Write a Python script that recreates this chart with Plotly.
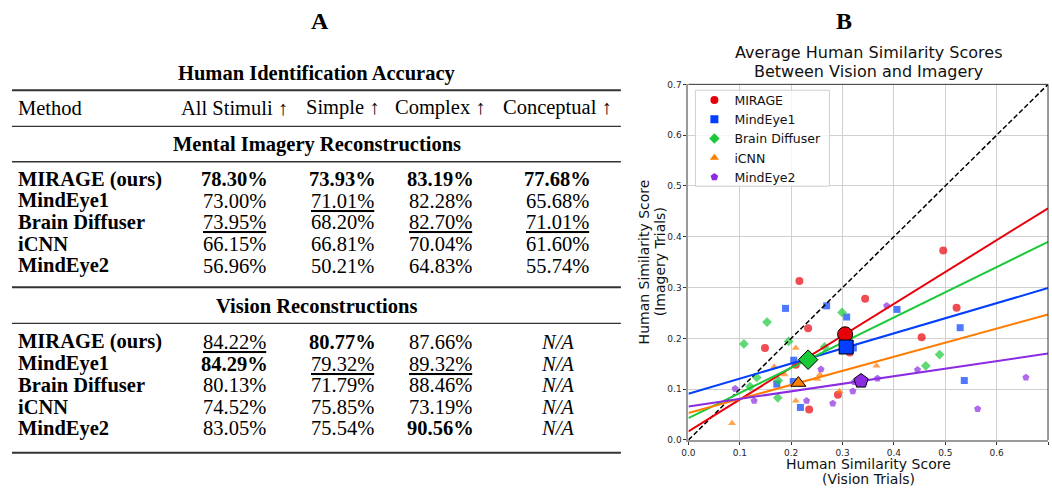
import plotly.graph_objects as go

W, H = 1052, 491


def px(x):
    return x / W


def py(y):
    return 1 - y / H


# ---------------- Table (panel A) data ----------------
table_title = "Human Identification Accuracy"
column_headers = ["Method", "All Stimuli ↑", "Simple ↑", "Complex ↑", "Conceptual ↑"]
section_titles = ["Mental Imagery Reconstructions", "Vision Reconstructions"]
methods = ["MIRAGE (ours)", "MindEye1", "Brain Diffuser", "iCNN", "MindEye2"]

imagery_all = [78.30, 73.00, 73.95, 66.15, 56.96]
imagery_simple = [73.93, 71.01, 68.20, 66.81, 50.21]
imagery_complex = [83.19, 82.28, 82.70, 70.04, 64.83]
imagery_conceptual = [77.68, 65.68, 71.01, 61.60, 55.74]

vision_all = [84.22, 84.29, 80.13, 74.52, 83.05]
vision_simple = [80.77, 79.32, 71.79, 75.85, 75.54]
vision_complex = [87.66, 89.32, 88.46, 73.19, 90.56]
vision_conceptual = [None, None, None, None, None]

# ---------------- Scatter (panel B) data ----------------
series_names = ["MIRAGE", "MindEye1", "Brain Diffuser", "iCNN", "MindEye2"]

mirage_x = [0.496, 0.344, 0.522, 0.454, 0.216, 0.233, 0.149, 0.209, 0.291, 0.235, 0.314]
mirage_y = [0.373, 0.278, 0.260, 0.202, 0.313, 0.220, 0.181, 0.148, 0.089, 0.060, 0.172]

mindeye1_x = [0.189, 0.269, 0.308, 0.406, 0.529, 0.537, 0.321, 0.205, 0.172, 0.218, 0.204]
mindeye1_y = [0.259, 0.264, 0.242, 0.257, 0.221, 0.117, 0.181, 0.157, 0.110, 0.064, 0.115]

brain_x = [0.153, 0.299, 0.108, 0.195, 0.265, 0.133, 0.120, 0.175, 0.174, 0.489, 0.462]
brain_y = [0.232, 0.251, 0.189, 0.194, 0.183, 0.123, 0.105, 0.117, 0.083, 0.168, 0.146]

icnn_x = [0.209, 0.167, 0.187, 0.256, 0.251, 0.209, 0.085, 0.294, 0.366]
icnn_y = [0.181, 0.144, 0.129, 0.129, 0.120, 0.077, 0.033, 0.096, 0.146]

mindeye2_x = [0.091, 0.128, 0.258, 0.230, 0.281, 0.320, 0.386, 0.368, 0.446, 0.563, 0.657, 0.323]
mindeye2_y = [0.101, 0.077, 0.139, 0.077, 0.072, 0.096, 0.264, 0.121, 0.138, 0.061, 0.123, 0.114]

# group means (large markers)
mean_x = [0.305, 0.307, 0.233, 0.214, 0.336]
mean_y = [0.208, 0.183, 0.158, 0.112, 0.116]

# fitted regression lines, value at x = 0 and x = 0.7
fit_x = [0.0, 0.7]
fit_y_start = [0.017, 0.091, 0.043, 0.053, 0.066]
fit_y_end = [0.456, 0.299, 0.390, 0.247, 0.170]

# identity line
diag = [0.0, 0.7]

tick_vals = [0.0, 0.1, 0.2, 0.3, 0.4, 0.5, 0.6, 0.7]

plot_title_lines = ["Average Human Similarity Scores", "Between Vision and Imagery"]
x_title_lines = ["Human Similarity Score", "(Vision Trials)"]
y_title_lines = ["Human Similarity Score", "(Imagery Trials)"]

colors = ["#e8000b", "#023eff", "#1ac938", "#ff7c00", "#8b2be2"]
symbols = ["circle", "square", "diamond", "triangle-up", "pentagon"]
small_sizes = [8, 7, 7.5, 7, 7.5]
big_sizes = [15, 14, 15, 13, 15]

points = [
    (mirage_x, mirage_y),
    (mindeye1_x, mindeye1_y),
    (brain_x, brain_y),
    (icnn_x, icnn_y),
    (mindeye2_x, mindeye2_y),
]

SANS = "DejaVu Sans, sans-serif"
SERIF = "Liberation Serif, DejaVu Serif, serif"

fig = go.Figure()

# small points
for (xs, ys), c, s, sz, n in zip(points, colors, symbols, small_sizes, series_names):
    fig.add_trace(go.Scatter(
        x=xs, y=ys, mode="markers", name=n, showlegend=False,
        marker=dict(color=c, symbol=s, size=sz, opacity=0.7, line=dict(width=0)),
        hoverinfo="skip",
    ))

# identity dashed line
fig.add_trace(go.Scatter(
    x=diag, y=diag, mode="lines", showlegend=False,
    line=dict(color="black", width=1.5, dash="5px,2.5px"), hoverinfo="skip",
))

# regression lines
for c, y0, y1 in zip(colors, fit_y_start, fit_y_end):
    fig.add_trace(go.Scatter(
        x=fit_x, y=[y0, y1], mode="lines", showlegend=False,
        line=dict(color=c, width=2), hoverinfo="skip",
    ))

# mean markers
for i, (c, s, sz) in enumerate(zip(colors, symbols, big_sizes)):
    fig.add_trace(go.Scatter(
        x=[mean_x[i]], y=[mean_y[i]], mode="markers", showlegend=False,
        marker=dict(color=c, symbol=s, size=sz, line=dict(color="black", width=1)),
        hoverinfo="skip",
    ))

# legend entries
for c, s, n in zip(colors, symbols, series_names):
    fig.add_trace(go.Scatter(
        x=[None], y=[None], mode="markers", name=n,
        marker=dict(color=c, symbol=s, size=8),
    ))

annotations = []


def note(text, x, y, font, size, xanchor="center", angle=0, color="black"):
    annotations.append(dict(text=text, x=px(x), y=py(y), xref="paper", yref="paper",
                            showarrow=False, textangle=angle, borderpad=0,
                            font=dict(family=font, size=size, color=color),
                            xanchor=xanchor, yanchor="middle"))


# panel letters
note("<b>A</b>", 315, 16, SERIF, 24)
note("<b>B</b>", 843, 16, SERIF, 24)

# scatter title & axis titles, one annotation per line
note(plot_title_lines[0], 867, 48.5, SANS, 16, color="#111")
note(plot_title_lines[1], 867, 67.5, SANS, 16, color="#111")
note(x_title_lines[0], 867, 468.5, SANS, 14, color="#111")
note(x_title_lines[1], 867, 484, SANS, 14, color="#111")
note(y_title_lines[0], 641, 262, SANS, 14, angle=-90, color="#111")
note(y_title_lines[1], 657, 262, SANS, 14, angle=-90, color="#111")

# ---------------- table ----------------
TFS = 20.5
col_x = [10, 229, 338, 436, 554]

note("<b>" + table_title + "</b>", 312, 70, SERIF, TFS)
for j, h in enumerate(column_headers):
    note(h, col_x[j], 105, SERIF, TFS, xanchor="left" if j == 0 else "center")

sections = [
    (section_titles[0], [imagery_all, imagery_simple, imagery_complex, imagery_conceptual], 142, 178),
    (section_titles[1], [vision_all, vision_simple, vision_complex, vision_conceptual], 307, 344),
]
row_step = 22

for title, cols, ty, first_row in sections:
    note("<b>" + title + "</b>", 312, ty, SERIF, TFS)
    for i, m in enumerate(methods):
        note("<b>" + m + "</b>", col_x[0], first_row + i * row_step, SERIF, TFS, xanchor="left")
    for j, col in enumerate(cols):
        valid = sorted([v for v in col if v is not None], reverse=True)
        for i, v in enumerate(col):
            if v is None:
                txt = "<i>N/A</i>"
            else:
                txt = f"{v:.2f}%"
                if v == valid[0]:
                    txt = "<b>" + txt + "</b>"
                elif len(valid) > 1 and v == valid[1]:
                    txt = "<u>" + txt + "</u>"
            note(txt, col_x[j + 1], first_row + i * row_step, SERIF, TFS)

shapes = []
rules = [(87, 2.0), (124, 1.3), (160, 1.3), (288, 2.0), (325, 1.3), (457, 2.0)]
for yy, w in rules:
    shapes.append(dict(type="line", xref="paper", yref="paper", x0=px(5), x1=px(618),
                       y0=py(yy), y1=py(yy), line=dict(color="#333", width=w)))

# top & right spines of scatter
shapes.append(dict(type="line", xref="x domain", yref="y domain", x0=0, x1=1, y0=1, y1=1,
                   line=dict(color="#333", width=1)))
shapes.append(dict(type="line", xref="x domain", yref="y domain", x0=1, x1=1, y0=0, y1=1,
                   line=dict(color="#333", width=1)))

# legend frame (semi-transparent, above the points)
shapes.append(dict(type="rect", xref="paper", yref="paper", layer="above",
                   x0=px(693), x1=px(828), y0=py(185), y1=py(87),
                   fillcolor="rgba(255,255,255,0.8)", line=dict(color="#d0d0d0", width=1)))

fig.update_layout(
    width=W, height=H,
    margin=dict(l=0, r=0, t=0, b=0),
    paper_bgcolor="white",
    plot_bgcolor="white",
    annotations=annotations,
    shapes=shapes,
    showlegend=True,
    legend=dict(x=px(692), y=py(82), xanchor="left", yanchor="top",
                bgcolor="rgba(0,0,0,0)", borderwidth=0,
                font=dict(family=SANS, size=12.5, color="#111"),
                itemsizing="trace", tracegroupgap=0),
    xaxis=dict(domain=[px(686), px(1048)], range=[0, 0.7], tickvals=tick_vals,
               tickformat=".1f", showgrid=True, gridcolor="#d0d0d0", gridwidth=1.2,
               zeroline=False, showline=True, linecolor="#9a9a9a", linewidth=2,
               ticks="outside", ticklen=3, tickcolor="#333", tickwidth=1,
               tickfont=dict(family=SANS, size=9, color="#262626")),
    yaxis=dict(domain=[py(444), py(81)], range=[0, 0.7], tickvals=tick_vals,
               tickformat=".1f", showgrid=True, gridcolor="#d0d0d0", gridwidth=1.2,
               zeroline=False, showline=True, linecolor="#9a9a9a", linewidth=2,
               ticks="outside", ticklen=3, tickcolor="#333", tickwidth=1,
               tickfont=dict(family=SANS, size=9, color="#262626")),
)

fig.write_html("out.html")
